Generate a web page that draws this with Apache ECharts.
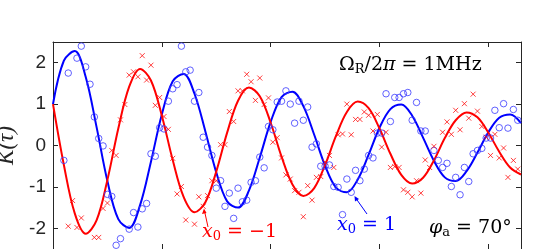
<!DOCTYPE html>
<html><head><meta charset="utf-8">
<script src="https://cdn.jsdelivr.net/npm/echarts@6/dist/echarts.min.js"></script>
<style>html,body{margin:0;padding:0;background:#fff}#c{width:538px;height:249px}</style>
</head><body><div id="c"></div>
<script>
// ---- data ----
const xTicks = [0, 1, 2, 3, 4];
const yTicks = [-2, -1, 0, 1, 2];

// fitted curves (x step 0.1, from 0 to 4.3)
const fitX = [0,0.1,0.2,0.3,0.4,0.5,0.6,0.7,0.8,0.9,1.0,1.1,1.2,1.3,1.4,1.5,1.6,1.7,1.8,1.9,2.0,2.1,2.2,2.3,2.4,2.5,2.6,2.7,2.8,2.9,3.0,3.1,3.2,3.3,3.4,3.5,3.6,3.7,3.8,3.9,4.0,4.1,4.2,4.3];
const fitBlue = [1.0,2.05,2.28,1.66,0.45,-0.86,-1.78,-1.99,-1.44,-0.39,0.75,1.55,1.73,1.25,0.34,-0.65,-1.35,-1.50,-1.09,-0.29,0.57,1.17,1.30,0.95,0.26,-0.49,-1.02,-1.13,-0.82,-0.22,0.43,0.88,0.99,0.72,0.19,-0.37,-0.77,-0.86,-0.62,-0.17,0.32,0.67,0.75,0.54];
const fitRed = [1.0,-0.47,-1.64,-2.13,-1.81,-0.83,0.41,1.42,1.85,1.57,0.72,-0.35,-1.24,-1.61,-1.37,-0.63,0.31,1.08,1.40,1.19,0.55,-0.27,-0.94,-1.22,-1.03,-0.47,0.23,0.81,1.06,0.90,0.41,-0.20,-0.71,-0.92,-0.78,-0.36,0.18,0.61,0.80,0.68,0.31,-0.15,-0.53,-0.70];

// measured points, x0 = 1 (blue circles)
const blueX = [0.10,0.14,0.22,0.26,0.30,0.34,0.38,0.42,0.46,0.50,0.54,0.58,0.62,0.70,0.74,0.78,0.82,0.86,0.90,0.94,0.98,1.02,1.06,1.10,1.14,1.18,1.22,1.26,1.30,1.34,1.38,1.42,1.46,1.50,1.54,1.58,1.62,1.66,1.70,1.74,1.78,1.82,1.86,1.90,1.94,1.98,2.02,2.06,2.10,2.14,2.18,2.22,2.26,2.30,2.34,2.38,2.42,2.46,2.50,2.54,2.58,2.62,2.66,2.70,2.74,2.78,2.82,2.86,2.90,2.94,2.98,3.02,3.06,3.10,3.14,3.18,3.22,3.26,3.30,3.34,3.38,3.42,3.50,3.54,3.58,3.62,3.66,3.70,3.74,3.78,3.82,3.86,3.90,3.94,3.98,4.02,4.06,4.10,4.14,4.18,4.23,4.27];
const blueY = [-0.36,1.75,2.11,2.40,1.90,1.48,0.69,0.17,-0.01,-1.18,-1.23,-2.41,-2.25,-2.02,-1.62,-1.97,-1.53,-1.40,-0.20,-0.26,0.43,0.40,1.07,1.37,1.47,2.40,1.78,1.82,1.07,1.28,0.20,-0.04,-0.24,-1.03,-0.85,-1.47,-1.15,-1.76,-1.03,-1.36,-1.32,-0.89,-0.85,-0.28,-0.54,0.46,0.38,1.05,1.07,1.32,1.00,0.54,1.07,0.61,0.93,-0.04,0.04,-0.50,-0.50,-0.47,-0.99,-1.01,-1.67,-0.81,-1.13,-0.60,-0.85,-0.57,-0.24,-0.30,0.30,0.30,1.25,0.58,1.16,1.16,1.25,1.28,0.61,1.04,0.35,0.35,-0.12,-0.36,-0.53,-0.43,-0.99,-0.77,-1.19,-0.53,-0.87,-0.20,-0.12,-0.07,0.18,0.18,0.85,0.43,1.01,0.42,0.87,0.61];

// measured points, x0 = -1 (red crosses)
const redX = [0.14,0.18,0.22,0.26,0.38,0.42,0.46,0.50,0.54,0.58,0.62,0.66,0.70,0.74,0.78,0.82,0.86,0.90,0.94,0.98,1.02,1.06,1.10,1.14,1.18,1.22,1.30,1.34,1.38,1.42,1.46,1.50,1.54,1.58,1.62,1.66,1.70,1.74,1.78,1.82,1.86,1.90,1.94,1.98,2.02,2.06,2.10,2.14,2.18,2.22,2.26,2.30,2.34,2.38,2.42,2.46,2.50,2.54,2.58,2.62,2.66,2.70,2.74,2.78,2.82,2.86,2.90,2.94,2.98,3.02,3.06,3.10,3.14,3.18,3.22,3.26,3.30,3.34,3.38,3.42,3.46,3.50,3.58,3.62,3.66,3.70,3.74,3.78,3.82,3.86,3.90,3.94,3.98,4.02,4.06,4.10,4.14,4.18,4.23,4.27];
const redY = [-1.95,-1.33,-1.98,-1.75,-2.22,-2.22,-1.52,-1.39,-0.12,-0.24,0.62,0.99,1.70,1.78,1.66,2.17,1.58,1.94,0.97,1.16,0.70,0.39,-0.31,-1.17,-0.99,-1.80,-1.90,-1.24,-1.47,-1.21,-0.85,-0.85,0.02,0.02,0.82,0.58,1.32,1.32,1.72,1.54,1.09,1.63,0.99,1.15,0.08,0.19,-0.30,-0.71,-0.81,-1.09,-1.13,-1.72,-0.97,-1.32,-0.77,-0.75,-0.40,-0.24,-0.53,0.26,0.28,1.00,0.26,0.63,0.63,0.81,0.73,0.35,0.75,-0.04,0.32,-0.53,-0.51,-0.53,-1.07,-1.13,-1.24,-0.85,-1.15,-0.35,-0.53,-0.02,0.32,0.57,0.27,0.85,0.38,1.01,0.66,1.24,0.83,0.46,0.20,-0.24,0.27,-0.30,-0.06,-0.77,-0.36,-0.57];

const zip = (xs, ys) => xs.map((x, i) => [x, ys[i]]);
const AX = '#262626';
const SERIF = 'DejaVu Serif, serif';
const crossPath = 'path://M0,0L10,10M10,0L0,10';

const chart = echarts.init(document.getElementById('c'), null, {renderer: 'canvas'});
const xBase = {
  type: 'value', min: 0, max: 4.3, gridIndex: 0,
  axisLine: {show: true, onZero: false, lineStyle: {color: AX, width: 1}},
  axisTick: {show: true, inside: true, length: 5, customValues: xTicks, lineStyle: {color: AX}},
  axisLabel: {show: false, customValues: xTicks},
  splitLine: {show: false}
};
const yBase = {
  type: 'value', min: -2.5, max: 2.5, gridIndex: 0,
  axisLine: {show: true, onZero: false, lineStyle: {color: AX, width: 1}},
  axisTick: {show: true, inside: true, length: 5, customValues: yTicks, lineStyle: {color: AX}},
  splitLine: {show: false}
};
function mathText(left, top, parts, color, size) {
  const sub = Math.round(size * 0.7);
  return {type: 'text', left: left, top: top, z: 10, style: {
    text: parts,
    rich: {
      i: {fontFamily: SERIF, fontStyle: 'italic', fontSize: size, fill: color},
      a: {fontFamily: SERIF, fontSize: size, fill: color},
      s: {fontFamily: SERIF, fontSize: sub, fill: color, padding: [Math.round(size * 0.45), 0, 0, 0]}
    }}};
}
chart.setOption({
  animation: false,
  backgroundColor: '#fff',
  grid: {left: 53, top: 42, right: 17, bottom: 0, containLabel: false, outerBoundsMode: 'none'},
  xAxis: [
    Object.assign({}, xBase, {position: 'bottom'}),
    Object.assign({}, xBase, {position: 'top'})
  ],
  yAxis: [
    Object.assign({}, yBase, {position: 'left',
      axisLabel: {show: true, customValues: yTicks, color: AX, fontSize: 19, fontFamily: 'Liberation Sans, Arial, sans-serif', margin: 7},
      name: 'K(τ)', nameLocation: 'middle', nameGap: 30, nameRotate: 90,
      nameTextStyle: {fontFamily: 'Liberation Serif, serif', fontStyle: 'italic', fontSize: 23, color: AX}
    }),
    Object.assign({}, yBase, {position: 'right', axisLabel: {show: false, customValues: yTicks}})
  ],
  series: [
    {type: 'line', data: zip(fitX, fitBlue), smooth: 0.35, symbol: 'none', lineStyle: {color: '#0000ff', width: 2}, z: 3},
    {type: 'line', data: zip(fitX, fitRed), smooth: 0.35, symbol: 'none', lineStyle: {color: '#ff0000', width: 2}, z: 3},
    {type: 'scatter', data: zip(blueX, blueY), symbol: 'circle', symbolSize: 6.5,
      itemStyle: {color: 'rgba(0,0,0,0)', borderColor: '#3a3aff', borderWidth: 1}, z: 4},
    {type: 'scatter', data: zip(redX, redY), symbol: crossPath, symbolSize: 5,
      itemStyle: {color: 'rgba(0,0,0,0)', borderColor: '#ff1010', borderWidth: 1}, z: 4}
  ],
  graphic: [
    mathText(339, 56, '{a|Ω}{s|R}{a|/2}{i|π}{a| = 1MHz}', '#000', 19),
    mathText(429, 219, '{i|φ}{s|a}{a| = 70°}', '#000', 19),
    mathText(202, 223, '{i|x}{s|0}{a| = −1}', '#ff0000', 19),
    mathText(337, 216, '{i|x}{s|0}{a| = 1}', '#0000ff', 19),
    {type: 'line', z: 10, shape: {x1: 208, y1: 227, x2: 204.5, y2: 211}, style: {stroke: '#ff0000', lineWidth: 1}},
    {type: 'polygon', z: 10, shape: {points: [[204, 208.5], [202, 214], [206.5, 213]]}, style: {fill: '#ff0000'}},
    {type: 'line', z: 10, shape: {x1: 367, y1: 214, x2: 356, y2: 198.5}, style: {stroke: '#0000ff', lineWidth: 1}},
    {type: 'polygon', z: 10, shape: {points: [[354.5, 196], [355, 201.5], [359, 199]]}, style: {fill: '#0000ff'}}
  ]
});
</script></body></html>
